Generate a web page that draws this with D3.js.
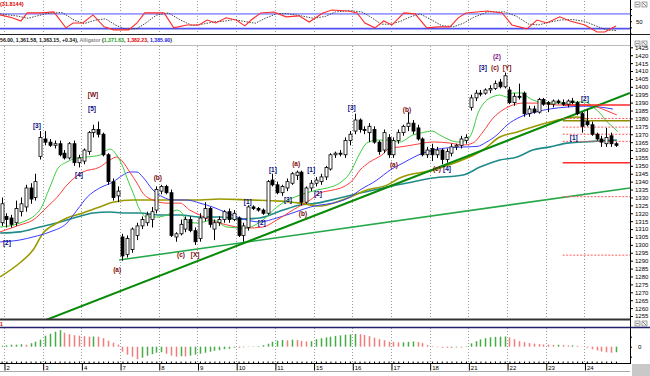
<!DOCTYPE html>
<html>
<head>
<meta charset="utf-8">
<script src="https://cdn.jsdelivr.net/npm/d3@7"></script>
<style>
  body { margin: 0; background: #fff; }
  svg { display: block; }
  text { font-family: "Liberation Sans", Arial, sans-serif; }
</style>
</head>
<body>
<div id="chart"></div>
<script>
// ---- data ----
const firstIndex = -1; // first candle sits just left of the first day line
const dayLabels = ["2", "3", "4", "7", "8", "9", "10", "11", "15", "16", "17", "18", "21", "22", "23", "24"];
const candlesPerDay = 8;

const openP = [1314,
  1318,1317,1314,1321,1324,1336,1330,1356, 1367,1365,1363,1364,1358,1355,1364,1352,
  1353,1359,1371,1373,1370,1357,1340,1331, 1305,1294,1297,1306,1312,1314,1316,1322,
  1334,1337,1333,1305,1307,1310,1316,1309, 1304,1317,1323,1310,1314,1316,1321,1316,
  1317,1306,1311,1324,1323,1322,1320,1341, 1338,1333,1336,1339,1344,1346,1327,1336,
  1339,1340,1343,1348,1357,1358,1357,1366, 1372,1379,1373,1371,1373,1365,1360,1368,
  1357,1366,1371,1375,1377,1374,1367,1357, 1361,1357,1360,1354,1358,1362,1363,1366,
  1387,1393,1396,1396,1398,1399,1403,1400, 1398,1390,1394,1396,1383,1386,1384,1392,
  1390,1389,1391,1390,1389,1391,1390,1383, 1378,1376,1370,1367,1364,1369,1364];
const highP = [1330,
  1320,1319,1328,1330,1338,1339,1345,1372, 1372,1367,1366,1366,1360,1365,1366,1357,
  1361,1372,1376,1378,1371,1358,1342,1337, 1307,1306,1311,1314,1318,1321,1324,1337,
  1338,1338,1335,1308,1316,1318,1318,1311, 1320,1327,1324,1316,1318,1322,1323,1322,
  1318,1314,1325,1325,1324,1323,1341,1345, 1340,1338,1342,1346,1347,1347,1337,1341,
  1343,1345,1350,1358,1359,1360,1368,1372, 1383,1380,1375,1377,1375,1366,1373,1370,
  1368,1373,1376,1384,1379,1376,1368,1362, 1364,1362,1361,1361,1364,1364,1369,1370,
  1395,1398,1398,1399,1401,1404,1405,1409, 1400,1396,1402,1397,1388,1388,1393,1393,
  1391,1392,1392,1392,1392,1393,1391,1384, 1386,1378,1371,1369,1374,1371,1365];
const lowP = [1312,
  1311,1311,1312,1318,1321,1326,1328,1354, 1363,1362,1361,1356,1354,1354,1350,1349,
  1351,1357,1368,1368,1356,1338,1328,1327, 1290,1292,1295,1303,1310,1312,1311,1320,
  1332,1332,1305,1302,1306,1308,1308,1300, 1302,1315,1311,1303,1312,1314,1314,1315,
  1305,1302,1309,1322,1321,1319,1319,1337, 1332,1331,1334,1338,1341,1325,1326,1334,
  1337,1338,1341,1347,1355,1356,1355,1363, 1370,1371,1370,1365,1364,1357,1358,1355,
  1355,1364,1369,1372,1370,1366,1356,1355, 1353,1355,1351,1352,1356,1360,1361,1364,
  1385,1391,1394,1395,1396,1398,1399,1399, 1389,1388,1392,1381,1381,1383,1383,1388,
  1384,1387,1389,1388,1387,1389,1382,1371, 1375,1369,1366,1362,1362,1362,1362];
const closeP = [1326,
  1316,1313,1323,1326,1336,1329,1340,1368, 1365,1363,1364,1357,1355,1364,1352,1355,
  1360,1371,1373,1370,1357,1340,1330,1334, 1293,1304,1310,1312,1316,1319,1321,1335,
  1337,1333,1306,1307,1313,1316,1309,1302, 1317,1323,1313,1314,1316,1321,1316,1320,
  1306,1312,1324,1323,1322,1320,1340,1338, 1333,1337,1340,1345,1346,1327,1336,1339,
  1341,1343,1349,1357,1358,1358,1366,1370, 1379,1373,1373,1375,1365,1359,1371,1357,
  1366,1371,1375,1377,1372,1367,1357,1360, 1357,1360,1354,1359,1362,1363,1367,1368,
  1393,1396,1396,1398,1399,1402,1400,1407, 1390,1394,1394,1383,1386,1384,1392,1389,
  1389,1391,1390,1389,1391,1390,1383,1375, 1376,1370,1367,1365,1368,1364,1363];

// alligator lines and the two longer averages, [bar, price]
const lips = [[-1.3,1311.3],[2.8,1313.8],[6.9,1322],[9,1336.6],[10.7,1348.6],[12.5,1352.4],[14.6,1355],
  [16.7,1355.6],[19.3,1356.8],[20.8,1360],[21.4,1360.6],[22.8,1356.8],[24.1,1349.2],[25.1,1341],
  [26.2,1332.8],[27.6,1322],[29,1317.6],[31.1,1317.6],[33.2,1318.9],[35.2,1322],[36.3,1320.2],
  [37.3,1314.5],[39.4,1313.8],[42.7,1315.7],[45.6,1311.3],[49.3,1310.6],[53,1315.7],[55.9,1323.9],
  [58.2,1328.4],[60.7,1331.5],[64.2,1334.7],[66.3,1336],[68.9,1339.1],[71,1345.4],[73.1,1358.1],
  [74.5,1364.4],[76.6,1366.3],[78.6,1366.3],[81.3,1365.1],[84,1369.5],[86,1371],[88,1372],
  [89.6,1369.5],[91.7,1366.3],[93.3,1365.1],[95.2,1366.3],[96.2,1370.7],[97.5,1383.4],[98.9,1390.4],
  [100.4,1393.5],[102,1394.8],[103.5,1393.5],[104.7,1396.1],[106.6,1396.1],[107.8,1393.5],
  [108.9,1391.6],[110.3,1390.4],[113,1389.7],[115.9,1389.7],[117.9,1390.4],[119.6,1390.4],
  [121.3,1387.2],[122.7,1383.4],[124.2,1377.7],[125.4,1374.6],[126.4,1371.6]];
const teeth = [[-1.3,1308.2],[2.8,1312.6],[5.5,1315.7],[8.4,1323.9],[10.5,1330.2],[12.5,1337.8],
  [15.8,1346.1],[19.3,1349.2],[21.4,1353.7],[22.8,1355.6],[24.1,1352.4],[25.5,1346.1],[27,1339.1],
  [28.2,1332.8],[30.3,1328.4],[33.2,1326.4],[35.9,1326.4],[37.9,1322],[40,1318.9],[42.1,1315.7],
  [44.1,1313.8],[45.6,1312.6],[49.7,1310.6],[53,1311.3],[55.9,1315.7],[59.2,1322],[62.8,1328.4],
  [64.8,1332.8],[67.5,1334.7],[69.6,1336.6],[71.6,1341],[73.1,1347.3],[75.1,1352.4],[77.6,1356.8],
  [79.3,1361.3],[81.3,1361.9],[84,1363.2],[88.2,1365.1],[91.7,1364.4],[94.4,1363.2],[96.4,1364.4],
  [98.5,1371.4],[100.6,1380.2],[102.6,1385.3],[104.7,1388.5],[106.8,1389.7],[110.3,1389.7],
  [113.8,1388.5],[117.1,1388.5],[120,1388.5],[122.1,1387.2],[124.2,1384.7],[126.2,1382.2]];
const jaw = [[-1.3,1301.9],[2.8,1303.1],[5.5,1305],[9,1308.2],[12.5,1313.8],[14.6,1322],[16.7,1330.2],
  [19.3,1336],[22,1339.7],[24.1,1344.2],[25.5,1346.1],[27,1346.1],[28.2,1342.9],[30.3,1334.7],
  [32.4,1330.2],[34.4,1328.4],[37.3,1328.4],[40,1326.4],[42.7,1323.9],[45.6,1320.2],[48.3,1317],
  [52.4,1314.5],[55.9,1317],[59.2,1320.2],[62.8,1323.9],[64.8,1325.2],[67.5,1326.4],[71,1330.2],
  [73.1,1334.7],[76.6,1341],[79.3,1347.3],[82,1351.8],[84.9,1356.5],[88.2,1360],[91.7,1361.5],
  [95.2,1362],[97.3,1362.3],[99.3,1365.1],[101.4,1369.5],[103.5,1375.8],[106.2,1380.9],
  [109.3,1384],[112.4,1386],[115.9,1387.2],[119.6,1387.8],[122.7,1387.2],[125.4,1385.9]];
const oliveAvg = [[-1.3,1279.8],[2.8,1288.7],[5.5,1296.7],[7.6,1307.5],[10.5,1313.8],[12.5,1317],
  [15.8,1320.2],[19.3,1324],[22,1327],[26.2,1328.4],[33.2,1328.4],[40,1328.4],[44.1,1329],
  [50.4,1328.4],[56.6,1327.7],[60.7,1326.4],[64.8,1324.6],[67.5,1326.4],[71,1330.2],[74.5,1334.7],
  [78.7,1337.8],[81.3,1342.3],[88.2,1347.3],[95.2,1354.9],[98.5,1360],[102,1368.2],[105.6,1371.4],
  [108.8,1374.6],[112.4,1377.7],[115.9,1380.2],[118,1380.9],[120,1379.6]];
const tealAvg = [[-1.3,1307.5],[2.8,1308.2],[6.9,1311.3],[11.1,1314.5],[14.6,1317.6],[17.9,1320.2],
  [21.4,1320.8],[24.1,1320.2],[27.6,1320.2],[31.7,1318.9],[35.9,1318.9],[40,1317.6],[44.1,1317.6],
  [48.3,1316.3],[52.4,1317],[57.2,1322],[60.7,1325.2],[64.2,1326.4],[68.9,1329.6],[73.1,1332.8],
  [77.8,1336],[82.8,1339.1],[88.2,1342.3],[94.4,1344.2],[97.9,1349.2],[102,1353.7],[105.6,1355.6],
  [108.8,1360],[112.4,1362],[115.9,1364.4],[119.2,1365.1],[122.7,1365.7],[126.2,1366.3]];

// trend lines, [bar, price] end points
const trendUpper = [[7.6, 1251.8], [128.9, 1396.1]];
const trendLower = [[23.3, 1290.4], [128.9, 1336]];

// horizontal levels on the right
const levelStart = 115, levelEnd = 128.9;
const redLevels = [1388.5, 1352];
const dottedLevels = [1380, 1374.5, 1370, 1365.5, 1330.5, 1293.5];
const oliveLevels = [1378.5];

// wave labels: [text, bar, price]
const blueLabels = [["[5]",17.7,1386],["[3]",6.3,1375.2],["[4]",15,1344.2],["[2]",0.1,1301.2],
  ["[1]",49.9,1327.1],["[2]",52.8,1313.8],["[1]",55.1,1347.3],["[3]",58.2,1328.4],["[1]",63,1347.3],
  ["[2]",64.4,1332.2],["[3]",71.4,1386.6],["[4]",91.1,1348],["[3]",98.5,1411.9],["[2]",119.6,1392.3],
  ["[1]",117.3,1367.6]];
const redLabels = [["[W]",17.9,1394.8],["(b)",31.3,1342.3],["(a)",22.9,1284],["(c)",36.1,1293.5],
  ["[X]",39,1293.5],["(a)",59.9,1351.2],["(b)",61.3,1319.5],["(b)",82.8,1385.3],["(a)",80.1,1350.5],
  ["(c)",89,1348],["(c)",101,1411.9],["[Y]",103.5,1411.9]];
const purpleLabels = [["(2)",101.4,1418.9]];

// stochastic %K and %D, [bar, value]
const stochK = [[-1.3,76],[1.2,64],[3,51],[4.3,84],[7.2,84],[9.8,88],[12.3,23],[13.8,43],[15.8,43],
  [17.9,76],[20.2,27],[22.2,15],[25.3,15],[27,43],[28.6,84],[32.6,84],[34.6,23],[37.3,35],[39.8,35],
  [41.5,55],[43.3,43],[45.4,64],[47.5,55],[49.3,31],[50.6,55],[52.6,84],[55.3,88],[57.8,68],[60.5,72],
  [62.6,47],[65.4,84],[67.3,96],[70.6,92],[72.5,84],[74.1,43],[76.2,23],[78,51],[79.7,35],[82.2,84],
  [84.5,80],[86.9,23],[89.4,27],[91.7,27],[93.4,64],[95,84],[99.4,92],[102.5,84],[104.5,35],
  [107.6,19],[109.7,55],[111.7,43],[114.4,68],[116.5,51],[119.6,35],[122.1,6],[123.7,6],[126,31]];
const stochD = [[-1.3,80],[2,72],[4.5,62],[6,70],[8.5,82],[11.5,86],[14,55],[16,40],[18.5,55],
  [20.5,60],[22.5,35],[24.5,18],[27,20],[29,45],[31,75],[33.5,84],[36,55],[38.5,32],[41,40],[43,48],
  [45,50],[47,57],[49.5,48],[51.5,42],[53.5,62],[56,82],[58.5,80],[61,72],[63.5,62],[66,70],[68,88],
  [71,93],[73.5,88],[75.5,65],[77.5,38],[79.5,38],[81.5,50],[83.5,68],[85.5,80],[87.5,60],[90,32],
  [92.5,28],[94.5,42],[96.5,65],[99.5,88],[103,88],[105.5,70],[108,38],[110,35],[112,45],[114.5,55],
  [117,57],[119.5,50],[122,30],[124,15],[126,12]];
const stochLevels = [80, 20];

// oscillator histogram, one value per candle
const oscValues = [1,
  1.5,2,2,2.5,2,3.5,5,7, 11,13,15,16.5,14,12.5,11.5,11,
  10.5,10,10.2,10,8.5,6,4,2, -5,-8,-10,-12.5,-11,-9,-7.5,-6,
  -5.5,-7,-9,-10,-9.5,-9.7,-9,-8, -7,-6,-5,-4,-3.5,-2.5,-2,-1,
  -1.2,-0.6,-0.3,0.3,0.6,1.5,3,5, 6,6.7,6.3,7,6.6,5.7,5.2,5.5,
  7.5,8.5,9.3,10,10.8,11.3,12,12.4, 12.7,12.5,11.7,10.5,9,7.5,6.5,5,
  4.8,4.3,4.4,4.8,5.2,4.6,3.6,1.5, 0.6,-0.5,-1,-1.1,-1.2,-0.7,-0.9,0.5,
  3.3,5.5,7.3,8.6,9.4,9.8,10,10.2, 9.2,7.5,5.5,4.5,3.6,3,2.6,2.2,
  2,1.8,1.9,1.5,1.2,1.3,0.9,0.2, -1,-2.5,-3.8,-4.8,-5.6,-6,-5.5];

// ---- chart ----
const W = 650, H = 376, axisX = 630;
const svg = d3.select("#chart").append("svg").attr("width", W).attr("height", H);

const x = d3.scaleLinear().domain([0, 126]).range([6.4, 615.9]);
const y = d3.scaleLinear().domain([1255, 1425]).range([316, 47.3]);
const yS = d3.scaleLinear().domain([0, 100]).range([33.5, 9]);
const yH = d3.scaleLinear().domain([-15, 20]).range([361.7, 326.7]);

const defs = svg.append("defs");
function addClip(id, x0, y0, w, h) {
    defs.append("clipPath").attr("id", id).append("rect")
        .attr("x", x0).attr("y", y0).attr("width", w).attr("height", h);
}
addClip("cMain", 0, 46, axisX, 273);
addClip("cStoch", 0, 1, axisX, 33);
addClip("cHist", 0, 328, axisX, 35);

const dayIdx = dayLabels.map((d, i) => i * candlesPerDay - 0.5);

// dotted day lines in all three panels
[[46, 319], [1, 34], [328, 363]].forEach(([a, b]) => {
    svg.append("g").selectAll("line")
        .data(dayIdx)
        .join("line")
        .attr("x1", d => Math.round(x(d)) + 0.5)
        .attr("x2", d => Math.round(x(d)) + 0.5)
        .attr("y1", a).attr("y2", b)
        .attr("stroke", "#9a9a9a")
        .attr("stroke-dasharray", "1,2");
});

// ---- stochastic panel ----
const gS = svg.append("g").attr("clip-path", "url(#cStoch)");
gS.selectAll("line.lvl")
    .data(stochLevels)
    .join("line")
    .attr("x1", 0).attr("x2", axisX)
    .attr("y1", d => yS(d)).attr("y2", d => yS(d))
    .attr("stroke", (d, i) => i === 0 ? "#9a9aff" : "#5050f0")
    .attr("stroke-width", 1.6);

const sLine = d3.line().x(d => x(d[0])).y(d => yS(d[1]));
gS.append("path").attr("d", sLine(stochD))
    .attr("fill", "none").attr("stroke", "#333").attr("stroke-width", 0.9)
    .attr("stroke-dasharray", "1.5,1.2");
gS.append("path").attr("d", sLine(stochK))
    .attr("fill", "none").attr("stroke", "#ff2a2a").attr("stroke-width", 1.1);

svg.append("text").attr("x", 0).attr("y", 6)
    .attr("fill", "#e00000").style("font-size", "5.5px").style("font-weight", "bold")
    .text("(31.8144)");

const stochAxis = svg.append("g").attr("transform", `translate(${axisX},0)`)
    .call(d3.axisRight(yS).tickValues([0, 25, 50, 75, 100]).tickSize(2).tickPadding(4)
        .tickFormat(d => d === 50 ? "50" : ""));
stochAxis.select(".domain").remove();
stochAxis.selectAll("text").style("font-size", "6px").attr("fill", "#000");

// header line of the price panel
svg.append("line").attr("x1", 0).attr("x2", W).attr("y1", 34.5).attr("y2", 34.5).attr("stroke", "#222");
svg.append("line").attr("x1", 0).attr("x2", axisX).attr("y1", 45.5).attr("y2", 45.5).attr("stroke", "#bbb");
const legend = svg.append("text").attr("x", 0).attr("y", 42)
    .style("font-size", "5.2px").style("font-weight", "bold");
[["56.00, 1,361.58, 1,363.15, +0.34), ", "#111"], ["Alligator ", "#888"], ["(", "#111"],
 ["1,371.63", "#1a9e1a"], [", ", "#111"], ["1,382.23", "#e00000"], [", ", "#111"],
 ["1,385.90", "#1a1ae0"], [")", "#111"]].forEach(([t, c]) => legend.append("tspan").attr("fill", c).text(t));

// ---- price panel ----
const gM = svg.append("g").attr("clip-path", "url(#cMain)");
const pLine = d3.line().x(d => x(d[0])).y(d => y(d[1])).curve(d3.curveMonotoneX);

const maLines = [
    [tealAvg, "#1f8a8a", 1.6],
    [oliveAvg, "#9a9a00", 1.6],
    [jaw, "#3c3cff", 1],
    [teeth, "#ff3c3c", 1],
    [lips, "#3ccc3c", 1]
];
maLines.forEach(([pts, col, w]) => {
    gM.append("path").attr("d", pLine(pts))
        .attr("fill", "none").attr("stroke", col).attr("stroke-width", w);
});

const straight = d3.line().x(d => x(d[0])).y(d => y(d[1]));
gM.append("path").attr("d", straight(trendLower))
    .attr("fill", "none").attr("stroke", "#25a84a").attr("stroke-width", 1.6);
gM.append("path").attr("d", straight(trendUpper))
    .attr("fill", "none").attr("stroke", "#078a07").attr("stroke-width", 2);

function levels(vals, col, w, dash) {
    gM.append("g").selectAll("line")
        .data(vals)
        .join("line")
        .attr("x1", x(levelStart)).attr("x2", x(levelEnd))
        .attr("y1", d => y(d)).attr("y2", d => y(d))
        .attr("stroke", col).attr("stroke-width", w)
        .attr("stroke-dasharray", dash);
}
levels(dottedLevels, "#ff5a5a", 1, "2,1.5");
levels(redLevels, "#ff2a2a", 1.5, null);
levels(oliveLevels, "#8d8d00", 1.5, null);

const candles = openP.map((o, k) => ({
    i: k + firstIndex, o: o, h: highP[k], l: lowP[k], c: closeP[k]
}));

const cg = gM.append("g").selectAll("g")
    .data(candles)
    .join("g");
cg.append("line")
    .attr("x1", d => Math.round(x(d.i)) + 0.5)
    .attr("x2", d => Math.round(x(d.i)) + 0.5)
    .attr("y1", d => y(d.h)).attr("y2", d => y(d.l))
    .attr("stroke", "#000").attr("stroke-width", 1);
cg.append("rect")
    .attr("x", d => Math.round(x(d.i)) - 1)
    .attr("width", 3)
    .attr("y", d => y(Math.max(d.o, d.c)))
    .attr("height", d => Math.max(1, Math.abs(y(d.o) - y(d.c))))
    .attr("fill", d => d.c > d.o ? "#fff" : "#000")
    .attr("stroke", "#000").attr("stroke-width", 0.8);

function waveLabels(list, col) {
    gM.append("g").selectAll("text")
        .data(list)
        .join("text")
        .attr("x", d => x(d[1]))
        .attr("y", d => y(d[2]))
        .attr("dy", "0.35em")
        .attr("text-anchor", "middle")
        .attr("fill", col)
        .style("font-size", "6.5px")
        .style("font-weight", "bold")
        .text(d => d[0]);
}
waveLabels(blueLabels, "#0a0a80");
waveLabels(redLabels, "#7a0a0a");
waveLabels(purpleLabels, "#7a1080");

const priceAxis = svg.append("g").attr("transform", `translate(${axisX},0)`)
    .call(d3.axisRight(y).tickValues(d3.range(1255, 1426, 5)).tickSize(3).tickPadding(2)
        .tickFormat(d3.format("d")));
priceAxis.select(".domain").remove();
priceAxis.selectAll("text").style("font-size", "6px").attr("fill", "#000");

// ---- oscillator panel ----
svg.append("line").attr("x1", 0).attr("x2", axisX).attr("y1", 319.5).attr("y2", 319.5)
    .attr("stroke", "#333").attr("stroke-width", 2);
svg.append("line").attr("x1", 0).attr("x2", W).attr("y1", 327.5).attr("y2", 327.5)
    .attr("stroke", "#22226e").attr("stroke-width", 1.5);
svg.append("text").attr("x", 0).attr("y", 325.5).attr("fill", "#e00000")
    .style("font-size", "5px").style("font-weight", "bold").text("1");

const gH = svg.append("g").attr("clip-path", "url(#cHist)");
gH.selectAll("rect")
    .data(oscValues.map((v, k) => ({ i: k + firstIndex, v: v, up: k === 0 || v >= oscValues[k - 1] })))
    .join("rect")
    .attr("x", d => Math.round(x(d.i)) - 0.25)
    .attr("width", 1.5)
    .attr("y", d => yH(Math.max(0, d.v)))
    .attr("height", d => Math.abs(yH(d.v) - yH(0)))
    .attr("fill", d => d.up ? "#45ad45" : "#f27c7c");

const oscAxis = svg.append("g").attr("transform", `translate(${axisX},0)`)
    .call(d3.axisRight(yH).tickValues([-10, 0, 10]).tickSize(2).tickPadding(6)
        .tickFormat(d => d === 0 ? "0" : ""));
oscAxis.select(".domain").remove();
oscAxis.selectAll("text").style("font-size", "6px").attr("fill", "#000");

// ---- right frame, date axis, corner widgets ----
svg.append("line").attr("x1", axisX + 0.5).attr("x2", axisX + 0.5).attr("y1", 0).attr("y2", 364)
    .attr("stroke", "#000");

const minorAxis = svg.append("g").attr("transform", "translate(0,363.5)")
    .call(d3.axisTop(x).tickValues(d3.range(firstIndex, 127)).tickSize(2).tickFormat(""));
minorAxis.select(".domain").attr("d", `M0,0H${axisX}`).attr("stroke", "#000");

const dateAxis = svg.append("g").attr("transform", "translate(0,363.5)")
    .call(d3.axisBottom(x).tickValues(dayIdx).tickSize(7).tickFormat((d, i) => dayLabels[i]));
dateAxis.select(".domain").remove();
dateAxis.selectAll(".tick line").attr("transform", "translate(0.5,0)");
dateAxis.selectAll("text")
    .attr("x", 2).attr("y", 2).attr("dy", "0.71em")
    .style("text-anchor", "start").style("font-size", "6px").attr("fill", "#000");
svg.append("line").attr("x1", 0).attr("x2", axisX).attr("y1", 371.5).attr("y2", 371.5).attr("stroke", "#aaa");

svg.append("rect").attr("x", 632).attr("y", 364).attr("width", 18).attr("height", 12).attr("fill", "#c8c8c8");

[2, 41, 321].forEach(top => {
    [635, 642].forEach((left, j) => {
        svg.append("rect").attr("x", left).attr("y", top).attr("width", 5).attr("height", 5)
            .attr("fill", "#f2f2f2").attr("stroke", "#666").attr("stroke-width", 0.6);
        svg.append("line").attr("x1", left + 1).attr("x2", left + 4)
            .attr("y1", top + (j === 0 ? 2.5 : 1)).attr("y2", top + (j === 0 ? 2.5 : 4))
            .attr("stroke", "#444").attr("stroke-width", 0.6);
    });
});
</script>
</body>
</html>
